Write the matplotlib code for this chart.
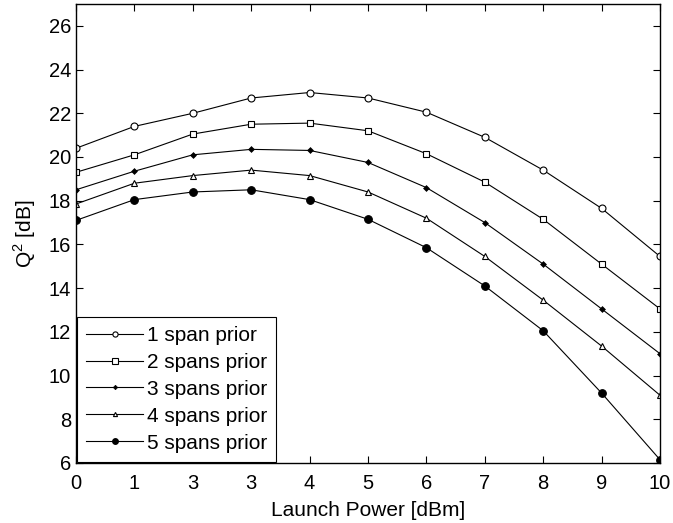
import matplotlib
matplotlib.use("Agg")
import matplotlib.pyplot as plt

plt.rcParams['font.family'] = ['Liberation Sans', 'DejaVu Sans']
plt.rcParams['mathtext.fontset'] = 'custom'
plt.rcParams['mathtext.rm'] = 'Liberation Sans'

# launch power points and tick labels (as printed in the original)
power = [0, 1, 2, 3, 4, 5, 6, 7, 8, 9, 10]
tick_labels = ['0', '1', '3', '3', '4', '5', '6', '7', '8', '9', '10']

q1 = [20.4, 21.4, 22.0, 22.7, 22.95, 22.7, 22.05, 20.9, 19.4, 17.65, 15.45]
q2 = [19.3, 20.1, 21.05, 21.5, 21.55, 21.2, 20.15, 18.85, 17.15, 15.1, 13.05]
q3 = [18.5, 19.35, 20.1, 20.35, 20.3, 19.75, 18.6, 17.0, 15.1, 13.05, 11.0]
q4 = [17.85, 18.8, 19.15, 19.4, 19.15, 18.4, 17.2, 15.45, 13.45, 11.35, 9.1]
q5 = [17.1, 18.05, 18.4, 18.5, 18.05, 17.15, 15.85, 14.1, 12.05, 9.2, 6.15]

labels = ['1 span prior', '2 spans prior', '3 spans prior',
          '4 spans prior', '5 spans prior']

fig = plt.figure(figsize=(6.73, 5.23), dpi=100)
ax = fig.add_axes([76 / 673, 60 / 523, 584 / 673, 459 / 523])

lw = 0.8
ax.plot(power, q1, '-o', color='black', lw=lw, ms=5, mfc='white', mew=0.8, label=labels[0])
ax.plot(power, q2, '-s', color='black', lw=lw, ms=5, mfc='white', mew=0.8, label=labels[1])
ax.plot(power, q3, '-D', color='black', lw=lw, ms=3, mfc='black', mew=0.5, label=labels[2])
ax.plot(power, q4, '-^', color='black', lw=lw, ms=4, mfc='white', mew=0.8, label=labels[3])
ax.plot(power, q5, '-o', color='black', lw=lw, ms=5.5, mfc='black', mew=0.8, label=labels[4])

ax.set_xlim(0, 10)
ax.set_ylim(6, 27)
ax.set_xticks(power)
ax.set_xticklabels(tick_labels)
ax.set_yticks(range(6, 27, 2))
ax.tick_params(direction='in', top=True, right=True, labelsize=14.5, length=5, width=0.8)
ax.tick_params(axis='x', pad=8)
for s in ax.spines.values():
    s.set_linewidth(1.0)

ax.set_xlabel('Launch Power [dBm]', fontsize=15, labelpad=6)
ax.set_ylabel('Q$^2$ [dB]', fontsize=15, labelpad=8)

leg = ax.legend(loc='lower left', fontsize=15, fancybox=False, framealpha=1,
                edgecolor='black', borderaxespad=0.05, handlelength=2.7,
                handletextpad=0.2, labelspacing=0.38, borderpad=0.45,
                markerscale=0.75)
leg.get_frame().set_linewidth(0.8)

fig.savefig('out.png', dpi=100)
